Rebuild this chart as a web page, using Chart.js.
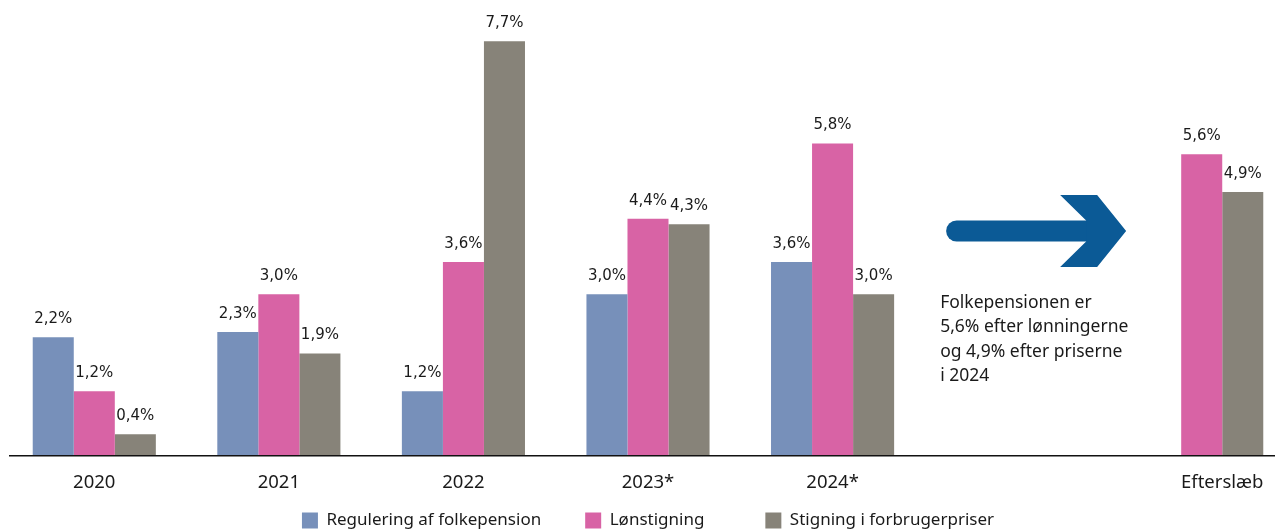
<!DOCTYPE html>
<html>
<head>
<meta charset="utf-8">
<script src="https://cdn.jsdelivr.net/npm/chart.js@4"></script>
<style>
    html, body { margin: 0; padding: 0; background: #fff; overflow: hidden; }
    #wrap { position: absolute; left: 2px; top: 0; width: 1292px; height: 539px; }
</style>
</head>
<body>
<div id="wrap"><canvas id="pensionChart"></canvas></div>
<script>
// Data
const categories = ['2020', '2021', '2022', '2023*', '2024*', '', 'Efterslæb'];
const regulering = [2.2, 2.3, 1.2, 3.0, 3.6, null, null];
const loenstigning = [1.2, 3.0, 3.6, 4.4, 5.8, null, 5.6];
const forbrugerpriser = [0.4, 1.9, 7.7, 4.3, 3.0, null, 4.9];
const seriesNames = ['Regulering af folkepension', 'Lønstigning', 'Stigning i forbrugerpriser'];
const noteLines = ['Folkepensionen er', '5,6% efter lønningerne', 'og 4,9% efter priserne', 'i 2024'];

const colors = ['#7790ba', '#d863a5', '#878379'];
const tickFont = { family: 'Noto Sans', size: 18.5 };
const tickPad = 8;
// extra space after each legend entry (the gaps in the original are uneven)
const legendGaps = ['\u2003\u2003', '\u2003\u2003\u2003', ''];

// Value labels above each bar, Danish decimal comma
const valueLabels = {
    id: 'valueLabels',
    afterDatasetsDraw(chart) {
        const ctx = chart.ctx;
        ctx.save();
        ctx.font = '15px "DejaVu Sans"';
        ctx.fillStyle = '#1a1a1a';
        ctx.textAlign = 'center';
        ctx.textBaseline = 'middle';
        chart.data.datasets.forEach((ds, i) => {
            const meta = chart.getDatasetMeta(i);
            meta.data.forEach((bar, j) => {
                const v = ds.data[j];
                if (v === null) return;
                ctx.fillText(v.toFixed(1).replace('.', ',') + '%', bar.x, bar.y - 18);
            });
        });
        ctx.restore();
    }
};

// Baseline, arrow, note text and the last category label (centred under its two bars)
const decorations = {
    id: 'decorations',
    afterDraw(chart) {
        const ctx = chart.ctx;
        const x = chart.scales.x;
        const y = chart.scales.y;
        const zero = y.getPixelForValue(0);
        ctx.save();

        ctx.strokeStyle = '#111';
        ctx.lineWidth = 1.5;
        ctx.beginPath();
        ctx.moveTo(7, zero);
        ctx.lineTo(1273, zero);
        ctx.stroke();

        // label for the last category
        const last = categories.length - 1;
        const p = chart.getDatasetMeta(1).data[last];
        const g = chart.getDatasetMeta(2).data[last];
        ctx.font = tickFont.size + 'px "' + tickFont.family + '"';
        ctx.fillStyle = '#1a1a1a';
        ctx.textAlign = 'center';
        ctx.textBaseline = 'middle';
        ctx.fillText(categories[last], (p.x + g.x) / 2, x.top + 8 + tickPad + tickFont.size * 0.6);

        // arrow in the empty category
        const cx = x.getPixelForValue(5);
        const tipX = cx + 109;
        const tipY = 231;
        ctx.fillStyle = '#0b5a96';
        ctx.strokeStyle = '#0b5a96';
        ctx.lineWidth = 21;
        ctx.lineCap = 'round';
        ctx.beginPath();
        ctx.moveTo(tipX - 169.5, tipY);
        ctx.lineTo(tipX - 38, tipY);
        ctx.stroke();
        const head = [[-66, -36], [-29, -36], [0, 0], [-29, 36], [-66, 36], [-40, 10.5], [-40, -10.5]];
        ctx.beginPath();
        head.forEach((pt, k) => {
            if (k === 0) ctx.moveTo(tipX + pt[0], tipY + pt[1]);
            else ctx.lineTo(tipX + pt[0], tipY + pt[1]);
        });
        ctx.closePath();
        ctx.fill();

        ctx.font = '17.5px "Noto Sans"';
        ctx.fillStyle = '#1a1a1a';
        ctx.textAlign = 'left';
        ctx.textBaseline = 'middle';
        noteLines.forEach((line, k) => {
            ctx.fillText(line, cx - 77, 303 + k * 24.3);
        });
        ctx.restore();
    }
};

new Chart(document.getElementById('pensionChart').getContext('2d'), {
    type: 'bar',
    data: {
        labels: categories,
        datasets: [
            { label: seriesNames[0], data: regulering, backgroundColor: colors[0] },
            { label: seriesNames[1], data: loenstigning, backgroundColor: colors[1] },
            { label: seriesNames[2], data: forbrugerpriser, backgroundColor: colors[2] }
        ]
    },
    options: {
        responsive: true,
        maintainAspectRatio: false,
        animation: false,
        layout: { padding: { top: 25, left: 0, right: 0, bottom: 0 } },
        datasets: {
            bar: { barPercentage: 1, categoryPercentage: 0.667 }
        },
        scales: {
            x: {
                grid: { display: false },
                border: { display: false },
                ticks: {
                    color: '#1a1a1a',
                    font: tickFont,
                    padding: tickPad,
                    callback: function(value, index) {
                        return index === categories.length - 1 ? '' : categories[index];
                    }
                }
            },
            y: {
                display: false,
                min: 0,
                max: 8
            }
        },
        plugins: {
            legend: {
                position: 'bottom',
                labels: {
                    boxWidth: 16,
                    boxHeight: 16,
                    padding: 10,
                    color: '#1a1a1a',
                    font: { family: 'Noto Sans', size: 17 },
                    generateLabels: function(chart) {
                        const items = Chart.defaults.plugins.legend.labels.generateLabels(chart);
                        items.forEach((item, i) => { item.text = item.text + legendGaps[i]; });
                        return items;
                    }
                }
            },
            tooltip: { enabled: false }
        }
    },
    plugins: [valueLabels, decorations]
});
</script>
</body>
</html>
